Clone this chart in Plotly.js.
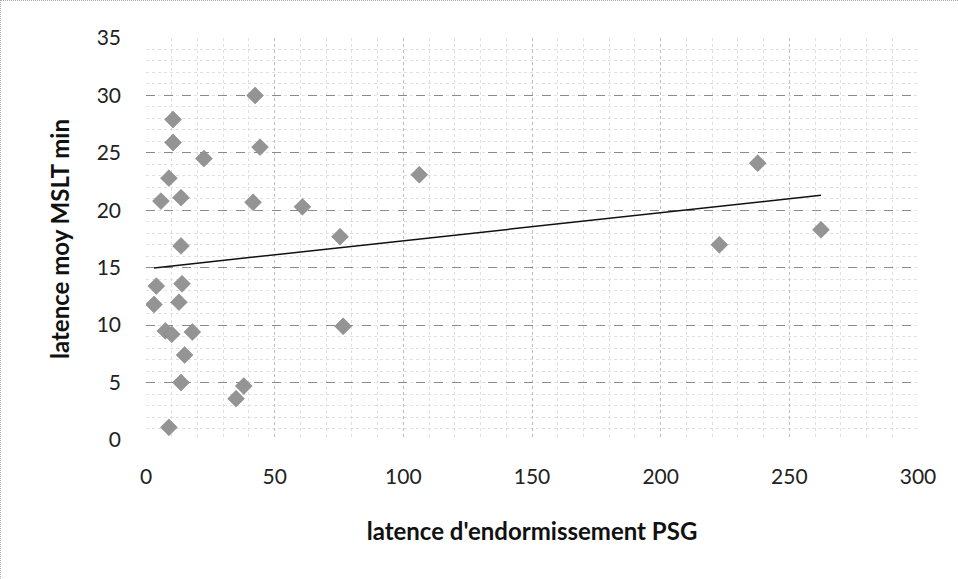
<!DOCTYPE html>
<html>
<head>
<meta charset="utf-8">
<script src="https://cdn.plot.ly/plotly-3.0.1.min.js"></script>
<style>
html,body{margin:0;padding:0;background:#fff;}
#chart{width:958px;height:579px;box-sizing:border-box;border-left:1px dotted #aaa;border-top:1px dotted #aaa;}
</style>
</head>
<body>
<div id="chart"></div>
<script>
// Data
const latencePSG = [3.1, 4.0, 5.8, 7.5, 8.9, 8.9, 10.0, 10.5, 10.5, 12.8, 13.6, 13.6, 13.6, 14.0, 15.0, 18.0, 22.5, 35.0, 38.0, 41.6, 42.4, 44.3, 60.8, 75.4, 76.6, 106.2, 222.8, 237.7, 262.3];
const latenceMSLT = [11.8, 13.4, 20.8, 9.5, 22.8, 1.1, 9.2, 27.9, 25.9, 12.0, 21.1, 16.9, 5.0, 13.6, 7.4, 9.4, 24.5, 3.6, 4.7, 20.7, 30.0, 25.5, 20.3, 17.7, 9.9, 23.1, 17.0, 24.1, 18.3];
const xTickVals = [0, 50, 100, 150, 200, 250, 300];
const yTickVals = [0, 5, 10, 15, 20, 25, 30, 35];

// Linear trendline (least squares) spanning the data range
const n = latencePSG.length;
const mx = latencePSG.reduce((a, b) => a + b, 0) / n;
const my = latenceMSLT.reduce((a, b) => a + b, 0) / n;
let sxy = 0, sxx = 0;
for (let i = 0; i < n; i++) { sxy += (latencePSG[i] - mx) * (latenceMSLT[i] - my); sxx += (latencePSG[i] - mx) ** 2; }
const slope = sxy / sxx, intercept = my - slope * mx;
const xmin = Math.min(...latencePSG), xmax = Math.max(...latencePSG);
const trendX = [xmin, xmax];
const trendY = trendX.map(v => intercept + slope * v);

const font = "Lato, 'Open Sans', sans-serif";

const traces = [
  {
    x: trendX, y: trendY, type: 'scatter', mode: 'lines',
    line: {color: '#111', width: 1.5}, hoverinfo: 'skip', showlegend: false
  },
  {
    x: latencePSG, y: latenceMSLT, type: 'scatter', mode: 'markers',
    marker: {symbol: 'diamond', size: 13, color: '#949494', line: {color: '#7d7d7d', width: 0.5}},
    showlegend: false
  }
];

const layout = {
  width: 958, height: 579,
  margin: {l: 145, r: 41, t: 37, b: 140},
  paper_bgcolor: '#ffffff', plot_bgcolor: '#ffffff',
  font: {family: font, color: '#222', size: 21},
  showlegend: false,
  xaxis: {
    range: [0, 300], tickvals: xTickVals, ticktext: xTickVals.map(String),
    showgrid: true, gridcolor: '#bdbdbd', gridwidth: 1, griddash: 'dot',
    minor: {dtick: 10, tick0: 0, showgrid: true, gridcolor: '#e0e0e0', gridwidth: 1, griddash: 'dot', ticks: ''},
    zeroline: false, showline: false, ticks: '', ticklabelstandoff: 22,
    tickfont: {family: font, size: 21, color: '#222'},
    title: {text: "latence d'endormissement PSG", font: {family: font, size: 24, color: '#111', weight: 'bold'}, standoff: 36}
  },
  yaxis: {
    range: [0, 35], tickvals: yTickVals, ticktext: yTickVals.map(String),
    showgrid: true, gridcolor: '#8a8a8a', gridwidth: 1, griddash: 'dash',
    minor: {dtick: 1, tick0: 0, showgrid: true, gridcolor: '#e0e0e0', gridwidth: 1, griddash: 'dot', ticks: ''},
    zeroline: false, showline: false, ticks: '', ticklabelstandoff: 24,
    tickfont: {family: font, size: 21, color: '#222'},
    title: {text: 'latence moy MSLT min', font: {family: font, size: 24, color: '#111', weight: 'bold'}, standoff: 20}
  }
};

Plotly.newPlot('chart', traces, layout, {staticPlot: true, displayModeBar: false});
</script>
</body>
</html>
